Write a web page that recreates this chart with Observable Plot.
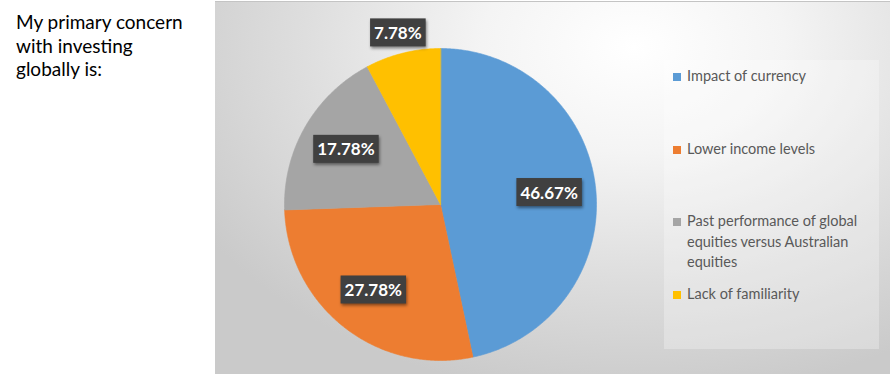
<!DOCTYPE html>
<html>
<head>
<meta charset="utf-8">
<script src="https://cdn.jsdelivr.net/npm/d3@7"></script>
<script src="https://cdn.jsdelivr.net/npm/@observablehq/plot@0.6"></script>
<style>
  html, body { margin: 0; padding: 0; background: #fff; }
  #wrap { position: relative; width: 892px; height: 376px; overflow: hidden; font-family: Lato, "Open Sans", sans-serif; }
  #title { position: absolute; left: 16px; top: 10px; font-size: 19px; line-height: 23.5px; color: #000; }
  #chart { position: absolute; left: 215px; top: 1px; }
  #chart svg { border-top: 1px solid #c4c4c4; }
  #legend { position: absolute; left: 664px; top: 60px; width: 215px; height: 289px;
            background: rgba(255,255,255,0.28); box-sizing: border-box; padding: 6px 0 0 9px; }
  .item { display: flex; align-items: flex-start; height: 72.5px; }
  .sw { width: 8px; height: 8px; margin-top: 7px; flex: none; }
  .lab { margin-left: 6px; width: 188px; font-size: 14.5px; line-height: 20.5px; color: #595959; }
</style>
</head>
<body>
<div id="wrap">
  <div id="title">My primary concern<br>with investing<br>globally is:</div>
  <div id="chart"></div>
  <div id="legend"></div>
</div>
<script>
const categories = [
  "Impact of currency",
  "Lower income levels",
  "Past performance of global equities versus Australian equities",
  "Lack of familiarity"
];
const shares = [46.67, 27.78, 17.78, 7.78];
const colors = ["#5B9BD5", "#ED7D31", "#A5A5A5", "#FFC000"];

// geometry of the plot (pixels inside the SVG)
const W = 675, H = 372, cx = 225, cy = 202, R = 156;

const arcs = d3.pie().sort(null).value(d => d)(shares);
const slicePts = [];
arcs.forEach((a, i) => {
  slicePts.push({cat: categories[i], x: 0, y: 0});
  const n = Math.max(4, Math.ceil((a.endAngle - a.startAngle) / (Math.PI / 360)));
  for (let k = 0; k <= n; k++) {
    const t = a.startAngle + (a.endAngle - a.startAngle) * k / n;
    slicePts.push({cat: categories[i], x: Math.sin(t), y: Math.cos(t)});
  }
});

const labelPts = arcs.map((a, i) => {
  const mid = (a.startAngle + a.endAngle) / 2;
  const rr = shares[i] < 10 ? 1.13 : 0.7;
  return {x: Math.sin(mid) * rr, y: Math.cos(mid) * rr, text: d3.format(".2f")(shares[i]) + "%"};
});

const chart = Plot.plot({
  width: W, height: H, margin: 0,
  style: {background: "radial-gradient(ellipse 75% 95% at 62% 12%, #ffffff 0%, #f4f4f4 30%, #dedede 65%, #cacaca 100%)", overflow: "visible"},
  x: {domain: [-1, 1], range: [cx - R, cx + R], axis: null},
  y: {domain: [-1, 1], range: [cy + R, cy - R], axis: null},
  color: {domain: categories, range: colors},
  marks: [
    Plot.line(slicePts, {x: "x", y: "y", z: "cat", fill: "cat", stroke: "cat", strokeWidth: 0.6, curve: "linear-closed"}),
    Plot.text(labelPts, {x: "x", y: "y", text: "text", fill: "white", fontWeight: "bold", fontSize: 17,
      fontFamily: "Lato, 'Open Sans', sans-serif"})
  ]
});
document.getElementById("chart").append(chart);

// dark label boxes behind the percentage texts
chart.querySelectorAll('g[aria-label="text"] text').forEach(t => {
  const bb = t.getBBox();
  const r = document.createElementNS("http://www.w3.org/2000/svg", "rect");
  r.setAttribute("x", bb.x - 4);
  r.setAttribute("y", bb.y - 3.5);
  r.setAttribute("width", bb.width + 8);
  r.setAttribute("height", bb.height + 7);
  if (t.getAttribute("transform")) r.setAttribute("transform", t.getAttribute("transform"));
  r.setAttribute("fill", "#404040");
  r.setAttribute("style", "filter: drop-shadow(1.5px 2px 1.5px rgba(0,0,0,0.45))");
  t.parentNode.insertBefore(r, t);
});

// legend
const leg = document.getElementById("legend");
categories.forEach((c, i) => {
  const it = document.createElement("div");
  it.className = "item";
  it.innerHTML = `<span class="sw" style="background:${colors[i]}"></span><span class="lab">${c}</span>`;
  leg.append(it);
});
</script>
</body>
</html>
